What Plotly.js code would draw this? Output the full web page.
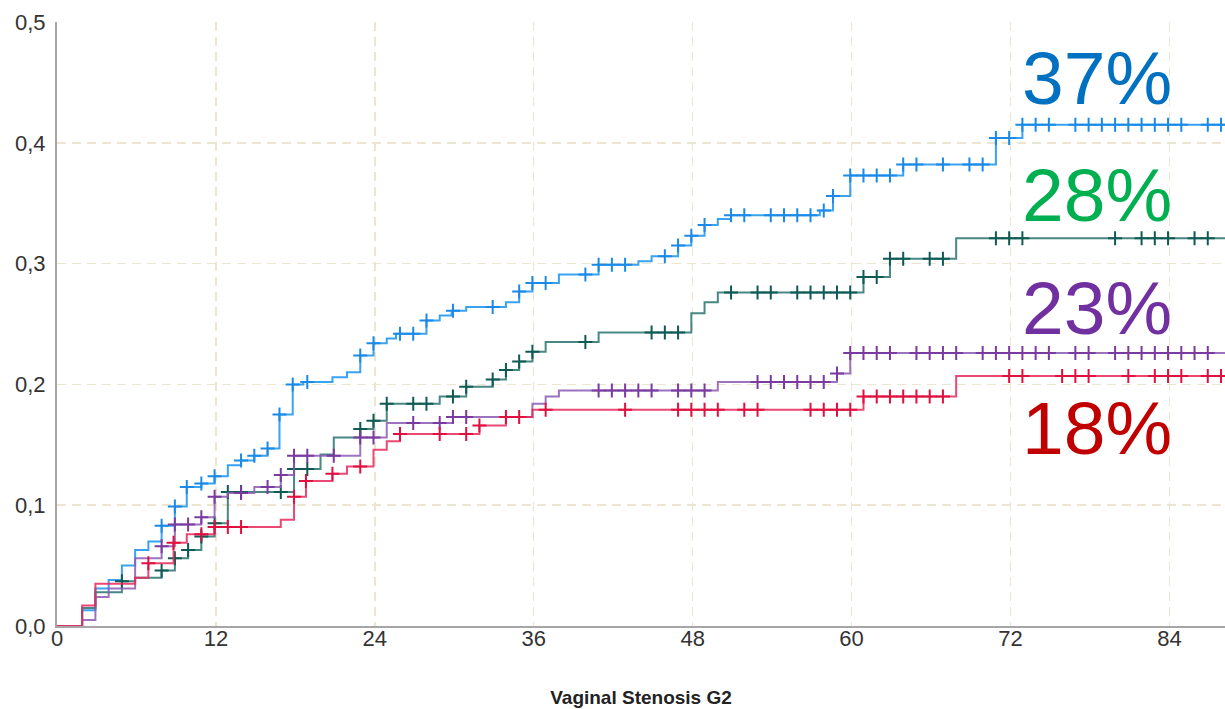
<!DOCTYPE html>
<html><head><meta charset="utf-8">
<script src="https://cdn.plot.ly/plotly-3.0.1.min.js"></script>
<style>html,body{margin:0;padding:0;background:#fff}#chart{width:1225px;height:709px}</style>
</head><body><div id="chart"></div>
<script>
// ---- data (months, cumulative incidence) ----
const blueStepT = [1.9,2.9,3.9,4.9,5.9,6.9,7.9,8.9,9.8,10.9,11.9,12.9,13.9,14.9,15.9,16.8,17.8,18.6,20.8,21.9,22.9,23.9,24.9,25.6,27.9,28.9,29.8,30.9,33.9,34.9,35.9,37.9,40.9,43.9,44.9,46.9,47.9,48.9,49.9,50.9,57.6,58.6,59.9,63.9,70.9,72.9];
const blueStepV = [0.013,0.031,0.038,0.050,0.063,0.070,0.083,0.099,0.115,0.118,0.124,0.133,0.137,0.141,0.147,0.175,0.200,0.202,0.206,0.210,0.224,0.234,0.238,0.242,0.253,0.257,0.261,0.264,0.268,0.277,0.284,0.291,0.299,0.302,0.306,0.315,0.323,0.332,0.337,0.340,0.344,0.356,0.373,0.382,0.404,0.415];
const blueCensorT = [7.9,8.9,9.8,10.9,11.9,13.9,14.9,15.9,16.8,17.8,18.9,22.9,23.9,25.9,26.9,27.9,29.9,32.9,34.9,35.9,36.9,39.9,40.9,41.9,42.9,45.9,46.9,47.9,48.9,50.9,51.9,53.9,54.9,55.9,56.9,57.9,58.6,59.9,60.9,61.9,62.9,63.9,64.9,66.9,68.9,69.9,70.9,71.9,72.9,73.9,74.9,76.9,77.9,78.9,79.9,80.9,81.9,82.9,83.9,84.9,86.9,87.9];

const tealStepT = [1.9,2.9,4.9,5.9,7.9,8.9,9.9,10.9,11.9,12.9,17.9,19.9,20.9,22.9,23.9,24.9,28.9,30.9,32.9,33.9,34.9,35.9,36.9,40.9,47.9,48.9,49.9,60.9,62.9,67.9];
const tealStepV = [0.015,0.028,0.037,0.040,0.046,0.056,0.063,0.074,0.085,0.111,0.130,0.142,0.156,0.163,0.170,0.184,0.190,0.198,0.204,0.212,0.219,0.227,0.235,0.243,0.259,0.268,0.276,0.289,0.304,0.321];
const tealCensorT = [4.9,7.9,8.9,9.9,10.9,11.9,12.9,13.9,16.9,17.9,18.9,22.9,23.9,24.9,26.9,27.9,29.9,30.9,32.9,33.9,34.9,35.9,39.9,44.9,45.9,46.9,50.9,52.9,53.9,55.9,56.9,57.9,58.9,59.9,60.9,61.9,62.9,63.9,65.9,66.9,70.9,71.9,72.9,79.9,81.9,82.9,83.9,85.9,86.9];

const purpleStepT = [1.9,2.9,3.9,5.9,7.9,8.9,10.9,11.9,12.9,14.9,16.9,17.9,22.9,24.9,29.9,35.9,36.9,37.9,49.9,58.9,59.9];
const purpleStepV = [0.005,0.024,0.031,0.056,0.066,0.084,0.090,0.107,0.110,0.115,0.125,0.141,0.156,0.168,0.173,0.184,0.190,0.195,0.202,0.209,0.226];
const purpleCensorT = [7.9,8.9,9.9,10.9,11.9,13.9,15.9,16.9,17.9,18.9,20.9,22.9,23.9,26.9,28.9,29.9,30.9,40.9,41.9,42.9,43.9,44.9,46.9,47.9,48.9,52.9,53.9,54.9,55.9,56.9,57.9,58.9,59.9,60.9,61.9,62.9,64.9,65.9,66.9,67.9,69.9,70.9,71.9,72.9,73.9,74.9,76.9,77.9,79.9,80.9,81.9,82.9,83.9,84.9,85.9,86.9];

const redStepT = [1.9,2.9,5.9,6.9,8.8,9.8,11.9,16.9,17.9,18.8,20.8,21.9,23.9,24.9,25.9,31.9,33.9,35.9,60.9,67.9];
const redStepV = [0.017,0.035,0.040,0.052,0.069,0.076,0.082,0.088,0.107,0.120,0.126,0.132,0.146,0.153,0.159,0.166,0.173,0.179,0.190,0.207];
const redCensorT = [6.9,8.8,10.9,11.9,12.9,13.9,17.9,18.8,20.8,22.9,25.9,28.9,30.9,31.9,33.9,34.9,36.9,42.9,46.9,47.9,48.9,49.9,51.9,52.9,56.9,57.9,58.9,59.9,60.9,61.9,62.9,63.9,64.9,65.9,66.9,71.9,72.9,75.9,76.9,77.9,80.9,82.9,83.9,84.9,86.9,87.9];

const followUpEnd = 88.4;
const xTickVals = [0,12,24,36,48,60,72,84];
const xTickText = ['0','12','24','36','48','60','72','84'];
const yTickVals = [0,0.1,0.2,0.3,0.4,0.5];
const yTickText = ['0,0','0,1','0,2','0,3','0,4','0,5'];
const labelTexts = ['37%','28%','23%','18%'];
const xTitle = 'Vaginal Stenosis G2';

// ---- build traces ----
function valueAt(T, V, t){ let v = 0; for (let i=0;i<T.length;i++){ if (T[i] <= t + 1e-9) v = V[i]; } return v; }
function stepTrace(T, V, color){
  return {type:'scatter', mode:'lines', x:[0].concat(T,[followUpEnd]), y:[0].concat(V,[V[V.length-1]]),
    line:{shape:'hv', color:color, width:2}, hoverinfo:'skip', showlegend:false};
}
function censorTrace(T, V, C, color){
  return {type:'scatter', mode:'markers', x:C, y:C.map(t=>valueAt(T,V,t)),
    marker:{symbol:'cross-thin', size:10, color:color, line:{color:color, width:2}}, hoverinfo:'skip', showlegend:false};
}
const traces = [
  stepTrace(blueStepT, blueStepV, 'rgba(35,152,240,0.9)'),
  censorTrace(blueStepT, blueStepV, blueCensorT, '#1a8ae6'),
  stepTrace(tealStepT, tealStepV, 'rgba(40,115,110,0.85)'),
  censorTrace(tealStepT, tealStepV, tealCensorT, '#0e5a54'),
  stepTrace(purpleStepT, purpleStepV, 'rgba(140,90,180,0.85)'),
  censorTrace(purpleStepT, purpleStepV, purpleCensorT, '#7a3aa0'),
  stepTrace(redStepT, redStepV, 'rgba(232,40,90,0.85)'),
  censorTrace(redStepT, redStepV, redCensorT, '#e0103f')
];

const labelColors = ['#0070c0','#00b050','#7030a0','#c00000'];
const labelY = [0.908, 0.713, 0.526, 0.327];
const annotations = labelTexts.map((txt,i)=>({
  xref:'paper', yref:'paper', x:0.956, y:labelY[i], xanchor:'right', yanchor:'middle',
  text:txt, showarrow:false, font:{family:'Liberation Sans, Arial, sans-serif', size:75, color:labelColors[i]}
}));

const gridStyle = {showgrid:true, gridcolor:'#ece5d0', gridwidth:1.5, griddash:'9px,6px'};
const layout = {
  width:1225, height:709,
  margin:{l:57, r:0, t:22, b:83},
  paper_bgcolor:'#ffffff', plot_bgcolor:'#ffffff',
  separators:', ',
  font:{family:'Liberation Sans, Arial, sans-serif', color:'#3a3a3a'},
  xaxis:Object.assign({
    range:[0, 88.2], tickmode:'array', tickvals:xTickVals, ticktext:xTickText,
    showline:true, linecolor:'#a6a6a6', linewidth:2, zeroline:false, ticks:'',
    tickfont:{size:22, color:'#333333'}, ticklabelstandoff:-8,
    title:{text:'<b>'+xTitle+'</b>', font:{size:19, color:'#222'}, standoff:40}
  }, gridStyle),
  yaxis:Object.assign({
    range:[0, 0.5], tickmode:'array', tickvals:yTickVals, ticktext:yTickText,
    showline:true, linecolor:'#a6a6a6', linewidth:2, zeroline:false, ticks:'',
    tickfont:{size:22, color:'#333333'}, ticklabelstandoff:5
  }, gridStyle),
  annotations:annotations
};
Plotly.newPlot('chart', traces, layout, {displayModeBar:false, staticPlot:true});
</script>
</body></html>
